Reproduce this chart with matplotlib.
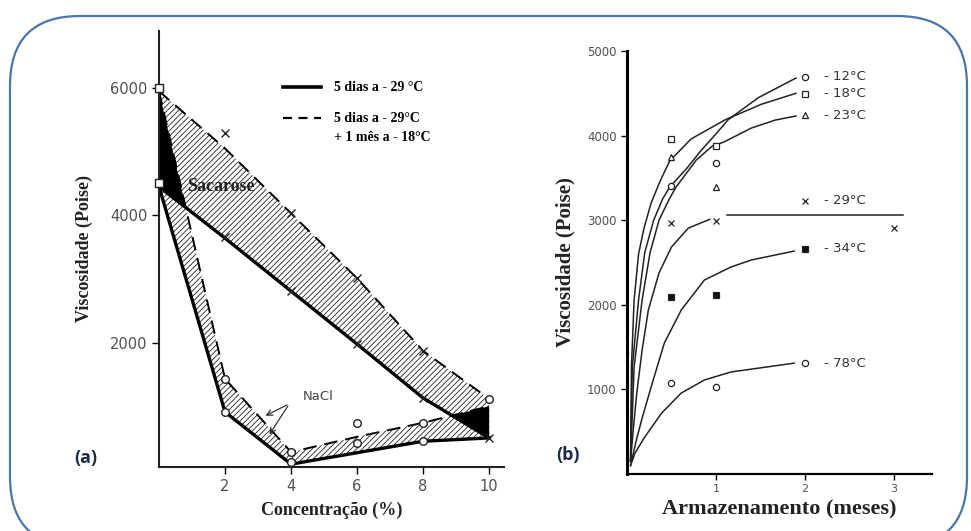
import numpy as np
import matplotlib
matplotlib.use("Agg")
import matplotlib.pyplot as plt
from matplotlib.patches import FancyBboxPatch

plt.rcParams['hatch.linewidth'] = 0.6

# ---------- painel (a): viscosidade x concentração ----------
conc = [0, 2, 4, 6, 8, 10]
# linhas dos limites das faixas
sac_cheia = [4450, 3640, 2808, 1976, 1129, 502]      # 5 dias a -29 °C
sac_trac = [5950, 5050, 4030, 3010, 1870, 1115]      # + 1 mês a -18 °C
nacl_cheia = [4450, 910, 90, 270, 450, 502]
nacl_trac = [5950, 1430, 280, 520, 740, 1000]

# pontos medidos
sac_x_conc = [2, 4, 6, 8, 2, 4, 6, 8, 10]
sac_x_visc = [5290, 4030, 3010, 1870, 3655, 2808, 1976, 1129, 502]
nacl_o_conc = [2, 2, 4, 4, 6, 6, 8, 8, 10]
nacl_o_visc = [1430, 910, 282, 125, 737, 424, 737, 455, 1115]
zero_visc = [6000, 4500]

# ---------- painel (b): viscosidade x armazenamento ----------
meses = [0.5, 1, 2]
v12 = [3404, 3676, 4693]
v18 = [3960, 3877, 4492]
v23 = [3747, 3392, 4243]
v29 = [2967, 2990, 3227]
v34 = [2092, 2116, 2660]
v78 = [1076, 1028, 1312]
x29_extra = (3, 2908)

# curvas ajustadas
c18_t = [0.04, 0.05, 0.08, 0.13, 0.19, 0.27, 0.38, 0.48, 0.72, 1.11, 1.51, 1.9]
c18_v = [150, 1265, 2057, 2600, 2900, 3200, 3480, 3700, 3960, 4190, 4370, 4500]
c12_t = [0.04, 0.06, 0.13, 0.2, 0.3, 0.4, 0.48, 0.67, 0.83, 1.0, 1.14, 1.48, 1.9]
c12_v = [150, 1265, 2057, 2620, 3000, 3250, 3390, 3610, 3820, 4020, 4190, 4450, 4680]
c23_t = [0.04, 0.08, 0.17, 0.26, 0.36, 0.47, 0.55, 0.78, 0.96, 1.09, 1.4, 1.67, 1.9]
c23_v = [150, 1265, 2057, 2620, 3000, 3239, 3390, 3712, 3877, 3924, 4090, 4184, 4232]
c29_t = [0.04, 0.07, 0.11, 0.17, 0.24, 0.36, 0.5, 0.69, 0.93]
c29_v = [150, 520, 957, 1466, 1938, 2376, 2683, 2907, 3010]
c29_reta_t = [1.12, 3.1]
c29_reta_v = [3060, 3060]
c34_t = [0.04, 0.1, 0.17, 0.28, 0.42, 0.61, 0.87, 1.17, 1.4, 1.88]
c34_v = [100, 380, 660, 1060, 1548, 1938, 2293, 2447, 2530, 2635]
c78_t = [0.04, 0.09, 0.2, 0.39, 0.61, 0.87, 1.17, 1.4, 1.88]
c78_v = [100, 248, 437, 721, 957, 1111, 1206, 1240, 1310]

rotulos = ["- 12°C", "- 18°C", "- 23°C", "- 29°C", "- 34°C", "- 78°C"]
rotulo_v = [4693, 4492, 4243, 3227, 2660, 1312]

serif = ['Liberation Serif', 'DejaVu Serif']
cinza = '#505050'

fig = plt.figure(figsize=(9.71, 5.31), dpi=100)

# moldura arredondada
moldura = FancyBboxPatch((0.1, -0.16), 9.57, 5.31, boxstyle="round,pad=0,rounding_size=0.7",
                         transform=fig.dpi_scale_trans, facecolor='none',
                         edgecolor='#4a76a8', linewidth=1.6)
fig.add_artist(moldura)

# ================= (a) =================
ax = fig.add_axes([159 / 971, (531 - 466.7) / 531, 345 / 971, 436 / 531])
ax.set_xlim(0, 10.45)
ax.set_ylim(50, 6900)
ax.patch.set_alpha(0)

# faixas hachuradas
ax.fill(conc + conc[::-1], sac_trac + sac_cheia[::-1], facecolor='none',
        edgecolor='#222', hatch='//////', linewidth=0)
ax.fill(conc + conc[::-1], nacl_trac + nacl_cheia[::-1], facecolor='none',
        edgecolor='#222', hatch='//////', linewidth=0)

# sobreposição das faixas em preto
xx = np.linspace(0, 10, 600)
topo = np.minimum(np.interp(xx, conc, sac_trac), np.interp(xx, conc, nacl_trac))
base = np.maximum(np.interp(xx, conc, sac_cheia), np.interp(xx, conc, nacl_cheia))
ax.fill_between(xx, base, topo, where=topo > base, color='black', linewidth=0)

ax.plot(conc, sac_cheia, color='black', lw=2.4)
ax.plot(conc, nacl_cheia, color='black', lw=2.4)
ax.plot(conc, sac_trac, color='black', lw=1.4, dashes=(7, 4))
ax.plot(conc, nacl_trac, color='black', lw=1.4, dashes=(7, 4))

ax.plot(sac_x_conc, sac_x_visc, 'x', color='#222', ms=5.5, mew=1.0, zorder=5)
ax.plot(nacl_o_conc, nacl_o_visc, 'o', mfc='white', mec='#222', ms=5.5, mew=1.0, zorder=5)
ax.plot([0] * len(zero_visc), zero_visc, 's', mfc='white', mec='#222', ms=5.5, mew=1.0,
        zorder=6, clip_on=False)

ax.text(0.85, 4455, "Sacarose", family=serif, weight='bold', fontsize=13,
        va='center', ha='left', color='#222')
ax.text(4.35, 1160, "NaCl", fontsize=9.5, color='#444', va='center', ha='left')
for alvo in [(3.15, 830), (3.3, 520)]:
    ax.annotate("", xy=alvo, xytext=(3.95, 1040),
                arrowprops=dict(arrowstyle='->', color='#333', lw=0.9))

# legenda manual
ax.plot([3.77, 4.92], [6013, 6013], color='black', lw=2.6, clip_on=False)
ax.plot([3.77, 4.92], [5526, 5526], color='black', lw=1.6, dashes=(4, 3), clip_on=False)
ax.text(5.3, 6013, "5 dias a - 29 °C", family=serif, weight='bold', fontsize=10, va='center')
ax.text(5.3, 5526, "5 dias a - 29°C", family=serif, weight='bold', fontsize=10, va='center')
ax.text(5.3, 5228, "+ 1 mês a - 18°C", family=serif, weight='bold', fontsize=10, va='center')

for s in ['top', 'right']:
    ax.spines[s].set_visible(False)
for s in ['left', 'bottom']:
    ax.spines[s].set_linewidth(1.5)
    ax.spines[s].set_color('#222')
ax.set_xticks([2, 4, 6, 8, 10])
ax.set_yticks([2000, 4000, 6000])
ax.tick_params(labelsize=10.5, labelcolor=cinza, length=5, width=1, direction='out')
ax.set_xlabel("Concentração (%)", family=serif, weight='bold', fontsize=13,
              color='#222', labelpad=6)
ax.set_ylabel("Viscosidade (Poise)", family=serif, weight='bold', fontsize=13,
              color='#222', labelpad=12)
fig.text(86 / 971, 1 - 458 / 531, "(a)", fontsize=13, weight='bold', color='#1c2b45',
         family=['Open Sans', 'DejaVu Sans'], ha='center', va='center')

# ================= (b) =================
bx = fig.add_axes([627 / 971, (531 - 474) / 531, 305 / 971, 423 / 531])
bx.set_xlim(0, 3.43)
bx.set_ylim(0, 5000)
bx.patch.set_alpha(0)

for t, v in [(c18_t, c18_v), (c12_t, c12_v), (c23_t, c23_v), (c29_t, c29_v),
             (c29_reta_t, c29_reta_v), (c34_t, c34_v), (c78_t, c78_v)]:
    bx.plot(t, v, color='#222', lw=1.1)

mk = dict(color='#222', ms=4.5, mew=0.9, ls='none', zorder=5)
bx.plot(meses, v12, 'o', mfc='white', **mk)
bx.plot(meses, v18, 's', mfc='white', **mk)
bx.plot(meses, v23, '^', mfc='white', **mk)
bx.plot(meses + [x29_extra[0]], v29 + [x29_extra[1]], 'x', **mk)
bx.plot(meses, v34, 's', mfc='#111', **mk)
bx.plot(meses, v78, 'o', mfc='white', **mk)

for txt, v in zip(rotulos, rotulo_v):
    bx.text(2.22, v, txt, fontsize=9.5, color='#333', va='center', ha='left')

for s in ['top', 'right']:
    bx.spines[s].set_visible(False)
bx.spines['left'].set_linewidth(2.2)
bx.spines['bottom'].set_linewidth(1.6)
bx.set_xticks([1, 2, 3])
bx.set_yticks([1000, 2000, 3000, 4000, 5000])
bx.tick_params(axis='y', labelsize=8.5, labelcolor=cinza, length=4, width=1)
bx.tick_params(axis='x', labelsize=8, labelcolor='#555', length=4, width=1)
bx.set_xlabel("Armazenamento (meses)", family=serif, weight='bold', fontsize=16,
              color='#222', labelpad=4)
bx.set_ylabel("Viscosidade (Poise)", family=serif, weight='bold', fontsize=15,
              color='#222', labelpad=8)
fig.text(568 / 971, 1 - 455 / 531, "(b)", fontsize=13, weight='bold', color='#1c2b45',
         family=['Open Sans', 'DejaVu Sans'], ha='center', va='center')

fig.savefig("out.png", dpi=100)
